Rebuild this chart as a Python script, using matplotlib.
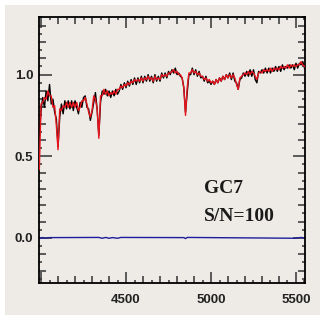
import numpy as np
import matplotlib
matplotlib.use("Agg")
import matplotlib.pyplot as plt
from matplotlib.patches import Rectangle
from matplotlib.ticker import MultipleLocator, FuncFormatter

# ---- data ----
wave_start = 3990   # Angstrom, first sample
wave_step = 10      # Angstrom between samples

observed = [
    0.62, 0.78, 0.86, 0.80, 0.90, 0.84, 0.94, 0.82, 0.85, 0.77,
    0.73, 0.56, 0.74, 0.82, 0.76, 0.84, 0.79, 0.84, 0.79, 0.84,
    0.78, 0.84, 0.80, 0.76, 0.83, 0.80, 0.86, 0.87, 0.80, 0.79,
    0.72, 0.77, 0.83, 0.89, 0.79, 0.63, 0.83, 0.90, 0.88, 0.91,
    0.87, 0.90, 0.86, 0.90, 0.87, 0.91, 0.88, 0.90, 0.94, 0.91,
    0.95, 0.92, 0.96, 0.93, 0.97, 0.94, 0.98, 0.94, 0.98, 0.95,
    0.99, 0.95, 0.99, 0.96, 1.00, 0.96, 0.99, 0.95, 1.00, 0.96,
    0.99, 0.96, 1.01, 0.98, 1.01, 0.98, 1.02, 1.00, 1.03, 1.01,
    1.04, 1.00, 1.01, 0.99, 0.98, 0.92, 0.77, 0.89, 1.00, 1.00,
    1.04, 1.00, 1.03, 0.99, 1.02, 0.98, 0.99, 0.96, 0.99, 0.95,
    0.96, 0.94, 0.96, 0.94, 0.97, 0.95, 0.98, 0.96, 0.99, 0.97,
    1.00, 0.98, 1.01, 0.97, 1.01, 0.96, 0.95, 0.91, 0.97, 0.98,
    1.01, 0.99, 1.02, 0.99, 1.03, 0.99, 1.03, 0.97, 0.95, 1.02,
    1.01, 1.03, 1.01, 1.04, 1.01, 1.04, 1.01, 1.04, 1.02, 1.05,
    1.02, 1.05, 1.02, 1.06, 1.03, 1.05, 1.04, 1.06, 1.04, 1.06,
    1.03, 1.07, 1.04, 1.07, 1.06, 1.08, 1.04,
]

model = [
    0.42, 0.82, 0.83, 0.86, 0.85, 0.90, 0.87, 0.87, 0.80, 0.81,
    0.69, 0.54, 0.79, 0.78, 0.81, 0.80, 0.83, 0.80, 0.83, 0.80,
    0.83, 0.80, 0.83, 0.78, 0.80, 0.84, 0.84, 0.86, 0.82, 0.77,
    0.74, 0.78, 0.87, 0.85, 0.79, 0.61, 0.87, 0.87, 0.91, 0.88,
    0.90, 0.87, 0.89, 0.88, 0.90, 0.88, 0.91, 0.91, 0.93, 0.92,
    0.94, 0.93, 0.95, 0.94, 0.96, 0.95, 0.97, 0.96, 0.97, 0.96,
    0.98, 0.96, 0.98, 0.97, 0.99, 0.97, 0.98, 0.96, 0.99, 0.97,
    0.98, 0.97, 1.00, 0.99, 1.00, 0.99, 1.01, 1.01, 1.02, 1.03,
    1.01, 1.02, 1.00, 1.00, 0.98, 0.92, 0.75, 0.92, 1.01, 1.01,
    1.03, 1.01, 1.02, 1.00, 1.01, 0.99, 0.99, 0.97, 0.98, 0.96,
    0.97, 0.95, 0.96, 0.94, 0.97, 0.95, 0.98, 0.96, 0.99, 0.97,
    1.00, 0.98, 1.00, 0.98, 1.00, 0.98, 0.94, 0.91, 0.98, 0.99,
    1.00, 1.01, 1.00, 1.02, 1.00, 1.02, 1.01, 0.99, 0.97, 1.01,
    1.02, 1.01, 1.03, 1.02, 1.03, 1.02, 1.04, 1.02, 1.04, 1.03,
    1.04, 1.03, 1.05, 1.04, 1.05, 1.04, 1.06, 1.04, 1.06, 1.05,
    1.06, 1.05, 1.06, 1.06, 1.08, 1.06, 1.05,
]

resid_wave = [3990, 4000, 4010, 4020, 4050, 4340, 4360, 4380, 4400, 4420,
              4450, 4470, 4840, 4850, 4860, 5500, 5530, 5553]
resid = [0.004, -0.003, 0.003, -0.002, 0.002, 0.003, -0.002, 0.003, -0.002, 0.002,
         -0.002, 0.003, 0.002, -0.004, 0.003, -0.002, 0.003, -0.002]

x_labels = [4500, 5000, 5500]
y_labels = [0.0, 0.5, 1.0]

label_name = "GC7"
label_sn = "S/N=100"

# ---- figure ----
BG = "#eeebe7"
W, H = 327, 322
fig = plt.figure(figsize=(W / 100, H / 100), dpi=100, facecolor="white")
fig.patches.append(Rectangle((5 / W, 1 - 315 / H), 315 / W, 310 / H,
                             transform=fig.transFigure, facecolor=BG,
                             edgecolor="none", zorder=-10))

ax = fig.add_axes([39 / W, 1 - 283 / H, 266 / W, 266 / H])
ax.set_facecolor(BG)

wave = wave_start + wave_step * np.arange(len(observed))
wave_m = wave_start + wave_step * np.arange(len(model))

ax.plot(resid_wave, resid, color="#1c1c9c", lw=1.0, zorder=2)
ax.plot(wave, observed, color="black", lw=1.0, zorder=3)
ax.plot(wave_m, model, color="#e8141c", lw=1.0, zorder=4)

ax.set_xlim(3988, 5553)
ax.set_ylim(-0.276, 1.353)

ax.xaxis.set_major_locator(MultipleLocator(100))
ax.xaxis.set_minor_locator(MultipleLocator(50))
ax.yaxis.set_major_locator(MultipleLocator(0.1))
ax.yaxis.set_minor_locator(MultipleLocator(0.05))


def is_x_label(v):
    return any(abs(v - L) < 1e-6 for L in x_labels)


def is_y_label(v):
    return any(abs(v - L) < 1e-6 for L in y_labels)


ax.xaxis.set_major_formatter(FuncFormatter(lambda v, p: f"{int(round(v))}" if is_x_label(v) else ""))
ax.yaxis.set_major_formatter(FuncFormatter(lambda v, p: f"{v:.1f}" if is_y_label(v) else ""))

ax.tick_params(which="both", direction="in", top=True, right=True,
               color="#333333", width=1.1)
ax.tick_params(which="major", length=5)
ax.tick_params(which="minor", length=2.5)
ax.tick_params(axis="x", which="major", pad=8)
ax.tick_params(axis="y", which="major", pad=4)

for lab in ax.get_xticklabels() + ax.get_yticklabels():
    lab.set_fontfamily("Liberation Sans")
    lab.set_fontweight("bold")
    lab.set_fontsize(9.5)
    lab.set_color("#222222")

fig.canvas.draw()
# longer ticks at labelled / half-unit positions
for t in ax.xaxis.get_major_ticks():
    v = t.get_loc()
    if abs(v / 500 - round(v / 500)) < 1e-6:
        t.tick1line.set_markersize(8)
        t.tick2line.set_markersize(8)
for t in ax.yaxis.get_major_ticks():
    v = t.get_loc()
    if abs(v / 0.5 - round(v / 0.5)) < 1e-6:
        t.tick1line.set_markersize(9)
        t.tick2line.set_markersize(9)

for s in ax.spines.values():
    s.set_linewidth(1.3)
    s.set_color("black")

ax.text(204 / W, 1 - 193 / H, label_name, transform=fig.transFigure,
        fontfamily="Liberation Serif", fontweight="bold", fontsize=14,
        color="#1a1a1a", ha="left", va="baseline")
ax.text(204 / W, 1 - 221 / H, label_sn, transform=fig.transFigure,
        fontfamily="Liberation Serif", fontweight="bold", fontsize=14,
        color="#1a1a1a", ha="left", va="baseline")

fig.savefig("out.png", dpi=100, facecolor="white")
